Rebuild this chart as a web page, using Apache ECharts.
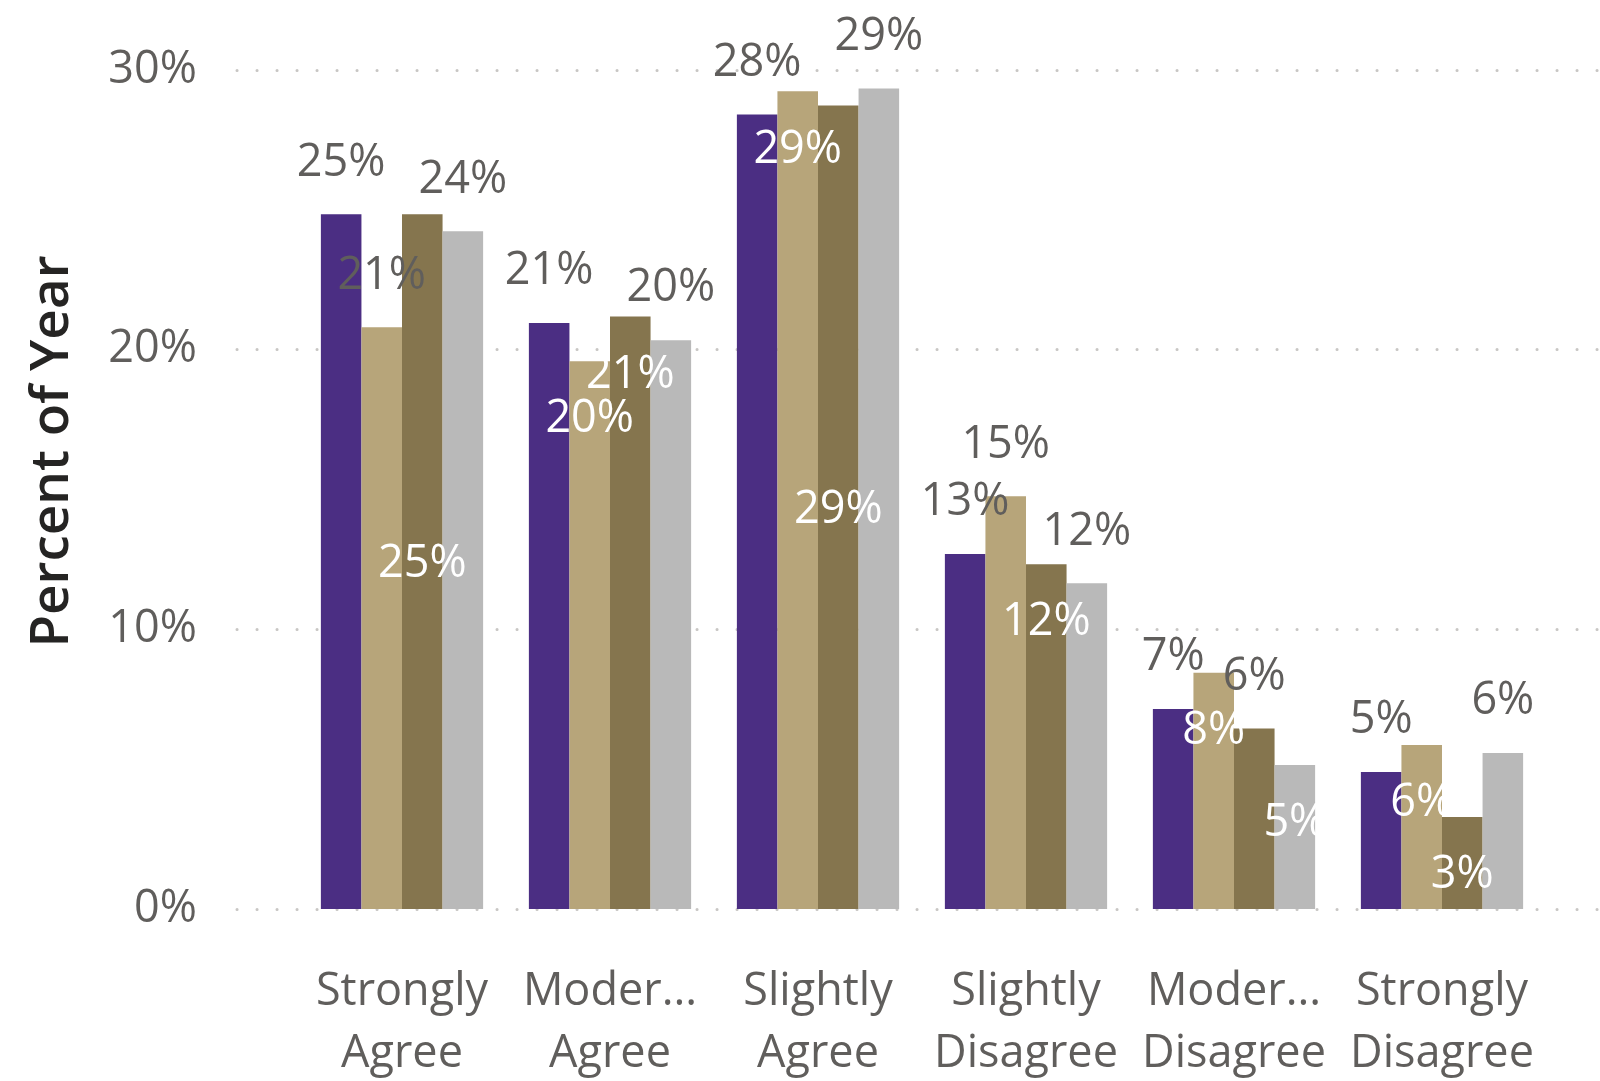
<!DOCTYPE html>
<html>
<head>
<meta charset="utf-8">
<script src="https://cdn.jsdelivr.net/npm/echarts@6/dist/echarts.min.js"></script>
<style>
html,body{margin:0;padding:0;background:#fff;}
#c{width:1600px;height:1081px;}
</style>
</head>
<body>
<div id="c"></div>
<script>
const categories = ['Strongly Agree', 'Moderately Agree', 'Slightly Agree', 'Slightly Disagree', 'Moderately Disagree', 'Strongly Disagree'];
const tickLabels = ['Strongly\nAgree', 'Moder...\nAgree', 'Slightly\nAgree', 'Slightly\nDisagree', 'Moder...\nDisagree', 'Strongly\nDisagree'];
const yTicks = [0, 10, 20, 30];

const seriesNames = ['Series 1', 'Series 2', 'Series 3', 'Series 4'];
const values1 = [24.84, 20.95, 28.41, 12.69, 7.15, 4.90];
const values2 = [20.80, 19.59, 29.24, 14.76, 8.45, 5.86];
const values3 = [24.84, 21.19, 28.73, 12.33, 6.45, 3.29];
const values4 = [24.23, 20.34, 29.34, 11.65, 5.15, 5.58];

// label placement for each point (as seen in the reference)
const place1 = ['top', 'top', 'top', 'top', 'top', 'top'];
const place2 = ['top', 'insideTop', 'insideTop', 'top', 'insideTop', 'insideTop'];
const place3 = ['inside', 'insideTop', 'inside', 'insideTop', 'top', 'insideTop'];
const place4 = ['top', 'top', 'top', 'top', 'insideTop', 'top'];

const colors = ['#4B2E83', '#B7A57A', '#85754E', '#B9B9B9'];
const FONT = "'Open Sans', 'Noto Sans', sans-serif";
const GRAY_TEXT = '#605E5C';

function labelFor(pos) {
  const base = { show: true, position: pos, fontFamily: FONT, fontSize: 45,
    formatter: p => Math.round(p.value) + '%' };
  if (pos === 'top') return Object.assign(base, { color: GRAY_TEXT, distance: 29 });
  if (pos === 'insideTop') return Object.assign(base, { color: '#FFFFFF', distance: 36 });
  return Object.assign(base, { color: '#FFFFFF', offset: [0, 3] });
}

function buildData(vals, places) {
  return vals.map((v, i) => ({ value: v, label: labelFor(places[i]) }));
}

const allValues = [values1, values2, values3, values4];
const allPlaces = [place1, place2, place3, place4];

const chart = echarts.init(document.getElementById('c'), null, { renderer: 'canvas' });
chart.setOption({
  animation: false,
  backgroundColor: '#ffffff',
  grid: [
    { left: 298, right: 54, top: 70, bottom: 172, outerBoundsMode: 'none', containLabel: false },
    { left: 237, right: 0, top: 70, bottom: 172, outerBoundsMode: 'none', containLabel: false }
  ],
  xAxis: [
    { type: 'category', gridIndex: 0, data: categories,
      axisLine: { show: false }, axisTick: { show: false },
      axisLabel: { interval: 0, margin: 52, color: GRAY_TEXT, fontFamily: FONT, fontSize: 45, lineHeight: 62,
        formatter: (v, i) => tickLabels[i] } },
    { type: 'value', gridIndex: 1, show: false, min: 0, max: 1 }
  ],
  yAxis: [
    { type: 'value', gridIndex: 0, min: yTicks[0], max: yTicks[yTicks.length - 1], interval: 10, show: false,
      splitLine: { show: false } },
    { type: 'value', gridIndex: 1, min: yTicks[0], max: yTicks[yTicks.length - 1], interval: 10,
      axisLine: { show: false }, axisTick: { show: false },
      axisLabel: { margin: 40, color: GRAY_TEXT, fontFamily: FONT, fontSize: 45, padding: [4, 0, 0, 0], formatter: '{value}%' },
      splitLine: { show: true, lineStyle: { color: '#C8C6C4', width: 3, type: [0.1, 19.9], cap: 'round' } },
      name: 'Percent of Year', nameLocation: 'middle', nameGap: 158, nameRotate: 90,
      nameTextStyle: { color: '#252423', fontFamily: FONT, fontSize: 53, fontWeight: 600, padding: [0, 0, 0, 76] } }
  ],
  series: allValues.map((vals, s) => ({
    name: seriesNames[s], type: 'bar', xAxisIndex: 0, yAxisIndex: 0,
    barGap: 0, barCategoryGap: '22%',
    itemStyle: { color: colors[s] },
    data: buildData(vals, allPlaces[s])
  }))
});
</script>
</body>
</html>
